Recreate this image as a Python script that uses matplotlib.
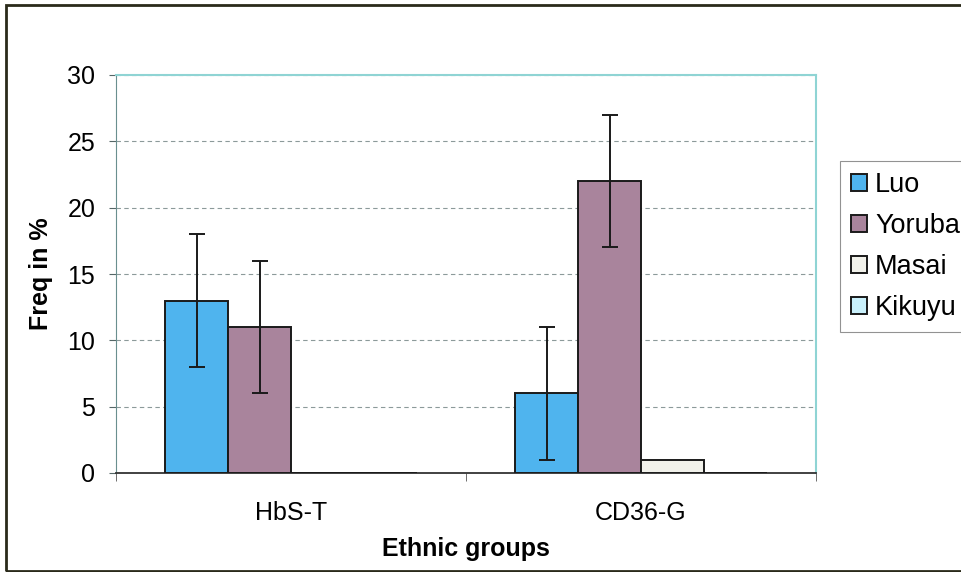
import matplotlib.pyplot as plt
import numpy as np
from matplotlib.patches import Rectangle

categories = ['HbS-T', 'CD36-G']
groups = ['Luo', 'Yoruba', 'Masai', 'Kikuyu']
values = {
    'Luo': [13, 6],
    'Yoruba': [11, 22],
    'Masai': [0, 1],
    'Kikuyu': [0, 0],
}
errors = {
    'Luo': [5, 5],
    'Yoruba': [5, 5],
    'Masai': [0, 0],
    'Kikuyu': [0, 0],
}
colors = ['#4fb4ee', '#a9849c', '#f1f1ea', '#c9f0fb']


def main():
    plt.rcParams['font.family'] = ['Liberation Sans', 'DejaVu Sans']

    fig = plt.figure(figsize=(9.62, 5.72), dpi=100)
    ax = fig.add_axes([116 / 962, 1 - 473 / 572, 700 / 962, 398 / 572])

    x = np.arange(len(categories))
    w = 0.18
    offsets = [-1.5, -0.5, 0.5, 1.5]
    handles = []
    for g, c, off in zip(groups, colors, offsets):
        vals = np.array(values[g], dtype=float)
        errs = np.array(errors[g], dtype=float)
        bars = ax.bar(x + off * w, vals, width=w, color=c,
                      edgecolor='#1a1a1a', linewidth=1.4, zorder=3, label=g)
        handles.append(bars)
        mask = errs > 0
        if mask.any():
            ax.errorbar((x + off * w)[mask], vals[mask], yerr=errs[mask],
                        fmt='none', ecolor='#1a1a1a', elinewidth=1.4,
                        capsize=6, capthick=1.4, zorder=4)

    ax.set_xlim(-0.5, 1.5)
    ax.set_ylim(0, 30)
    ax.set_yticks(range(0, 31, 5))
    ax.yaxis.grid(True, ls=(0, (4, 3)), color='#8c9a9a', lw=0.8)
    ax.set_axisbelow(True)

    ax.set_xticks(x)
    ax.set_xticklabels(categories, fontsize=18)
    ax.set_xticks([-0.5, 0.5, 1.5], minor=True)
    ax.tick_params(axis='x', which='major', length=0, pad=20)
    ax.tick_params(axis='x', which='minor', length=6, color='#555555')
    ax.tick_params(axis='y', length=5, color='#556666', labelsize=18, pad=10)

    ax.set_xlabel('Ethnic groups', fontsize=18, fontweight='bold', labelpad=9)
    ax.set_ylabel('Freq in %', fontsize=18, fontweight='bold', labelpad=10)

    for side in ['top', 'right']:
        ax.spines[side].set_color('#8fd4d4')
        ax.spines[side].set_linewidth(1.5)
    ax.spines['left'].set_color('#6a8f8f')
    ax.spines['bottom'].set_color('#333333')
    ax.spines['bottom'].set_linewidth(1.3)

    leg = fig.legend(handles=handles, loc='upper left',
                     bbox_to_anchor=(840 / 962, 1 - 161 / 572),
                     fontsize=19.5, frameon=True, fancybox=False,
                     handlelength=0.6, handleheight=0.6, handletextpad=0.3,
                     labelspacing=0.56, borderpad=0.4, borderaxespad=0)
    leg.get_frame().set_edgecolor('#777777')
    leg.get_frame().set_linewidth(0.8)

    fig.patches.append(Rectangle((6 / 962, 1 - 571 / 572), 1.0, 566 / 572,
                                 transform=fig.transFigure, fill=False,
                                 edgecolor='#2a2a1a', linewidth=2))

    fig.savefig('out.png', dpi=100)


if __name__ == "__main__":
    main()
